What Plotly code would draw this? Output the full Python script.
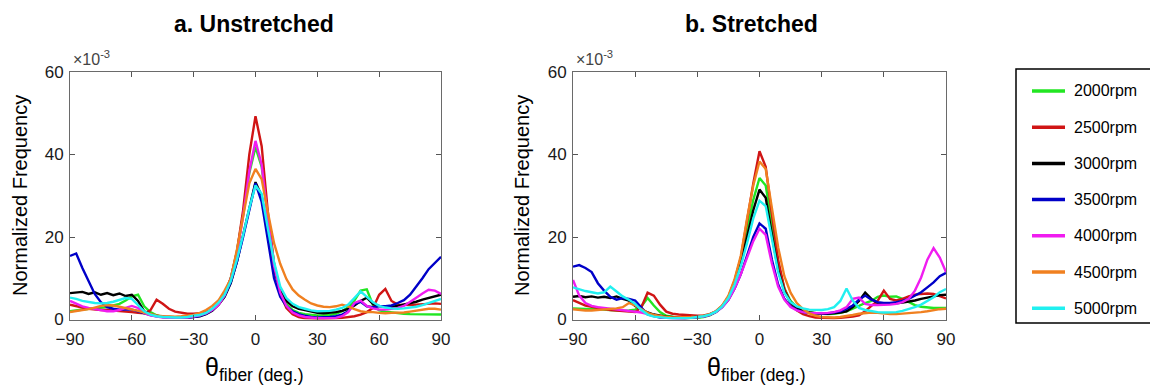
import plotly.graph_objects as go

FONT = "Arial, Liberation Sans, sans-serif"

theta = list(range(-90, 91, 3))
speeds = ["2000rpm", "2500rpm", "3000rpm", "3500rpm", "4000rpm", "4500rpm", "5000rpm"]
colors = ["#22e622", "#d01515", "#000000", "#0000c8", "#f01cf0", "#f08020", "#20f0f0"]
xticks = [-90, -60, -30, 0, 30, 60, 90]
yticks = [0, 20, 40, 60]

# Panel a. Unstretched (values in units of 1e-3)
a_2000 = [2.0, 2.2, 2.5, 2.6, 2.7, 2.8, 3.0, 3.4, 3.8, 4.6,
          5.6, 6.0, 3.2, 1.8, 1.0, 0.6, 0.5, 0.4, 0.4, 0.5,
          0.7, 1.0, 1.5, 2.3, 3.6, 6.0, 10.0, 16.5, 25.5, 35.5,
          41.8,
          37.0, 25.0, 13.5, 7.0, 3.8, 2.3, 1.6, 1.3, 1.1, 1.0,
          1.0, 1.1, 1.4, 2.0, 3.0, 4.6, 7.0, 7.3, 3.5, 2.2,
          1.9, 1.7, 1.5, 1.4, 1.3, 1.3, 1.2, 1.2, 1.2, 1.2]
a_2500 = [3.6, 3.2, 2.9, 2.6, 2.4, 2.3, 2.3, 2.2, 2.0, 1.9,
          1.8, 1.6, 1.5, 2.2, 4.8, 3.8, 2.6, 1.9, 1.6, 1.4,
          1.4, 1.5, 1.8, 2.5, 3.8, 6.2, 10.0, 16.5, 26.5, 40.0,
          49.3,
          42.0, 26.0, 13.5, 6.2, 2.8, 1.3, 0.6, 0.3, 0.2, 0.2,
          0.2, 0.2, 0.3, 0.4, 0.6, 0.8, 1.2, 1.8, 2.8, 6.0,
          7.4, 4.5, 3.6, 3.5, 3.5, 3.6, 3.7, 3.8, 3.9, 3.8]
a_3000 = [6.4, 6.5, 6.7, 6.2, 6.6, 6.0, 6.4, 5.9, 6.3, 5.7,
          6.0, 4.5, 2.0, 1.3, 0.9, 0.7, 0.6, 0.5, 0.5, 0.5,
          0.6, 0.8, 1.3, 2.1, 3.5, 5.5, 8.8, 14.0, 20.5, 27.0,
          33.3,
          30.0, 21.0, 12.0, 7.0, 4.5, 3.2, 2.6, 2.3, 1.9, 1.6,
          1.5, 1.6, 1.8, 2.1, 2.6, 3.4, 4.5, 5.3, 3.8, 3.3,
          3.2, 3.1, 3.3, 3.6, 3.9, 4.3, 4.8, 5.2, 5.7, 6.0]
a_3500 = [15.4, 16.0, 12.5, 9.4, 6.2, 4.2, 3.0, 2.6, 2.4, 2.5,
          2.4, 2.0, 1.5, 1.1, 0.8, 0.6, 0.5, 0.4, 0.4, 0.5,
          0.6, 0.9, 1.4, 2.3, 3.8, 5.7, 9.0, 14.0, 20.0, 26.5,
          33.0,
          28.5, 19.0, 10.0, 5.5, 3.2, 2.0, 1.3, 0.9, 0.6, 0.5,
          0.5, 0.6, 0.8, 1.2, 2.0, 3.8, 4.3, 3.2, 3.0, 3.2,
          3.2, 3.4, 4.0, 4.7, 6.0, 7.9, 10.0, 12.2, 13.8, 15.2]
a_4000 = [4.5, 3.8, 3.2, 2.8, 2.5, 2.2, 2.0, 2.0, 2.3, 2.8,
          3.3, 2.8, 1.6, 1.0, 0.7, 0.5, 0.4, 0.4, 0.4, 0.5,
          0.7, 1.0, 1.5, 2.3, 3.5, 5.8, 9.8, 16.0, 25.0, 36.0,
          43.3,
          37.5, 24.5, 13.0, 6.5, 3.3, 1.7, 1.0, 0.6, 0.4, 0.3,
          0.3, 0.3, 0.4, 0.8, 1.8, 4.0, 4.6, 3.3, 2.7, 2.4,
          2.4, 2.6, 2.8, 3.3, 4.2, 5.3, 6.3, 7.2, 7.0, 6.2]
a_4500 = [1.8, 2.0, 2.2, 2.5, 2.9, 3.3, 3.5, 3.4, 3.1, 2.8,
          2.5, 2.1, 1.7, 1.3, 1.0, 0.8, 0.7, 0.7, 0.8, 0.9,
          1.1, 1.6, 2.3, 3.3, 4.6, 7.0, 9.8, 17.0, 25.0, 33.0,
          36.5,
          34.0, 26.0, 18.5, 13.5, 9.8, 7.3, 5.8, 4.8, 3.9, 3.4,
          3.1, 3.0, 3.2, 3.6, 3.2, 2.5, 2.0, 1.8, 1.8, 1.6,
          1.5, 1.6, 1.6, 1.7, 1.9, 2.1, 2.3, 2.6, 2.6, 2.4]
a_5000 = [5.3, 5.0, 4.5, 4.2, 4.0, 3.9, 4.0, 4.3, 4.8, 5.2,
          5.0, 3.5, 2.0, 1.2, 0.8, 0.6, 0.5, 0.5, 0.5, 0.6,
          0.9, 1.1, 1.6, 2.6, 4.0, 6.0, 9.3, 14.5, 20.5, 27.0,
          32.5,
          30.5, 22.0, 14.0, 8.0, 5.2, 3.8, 3.0, 2.6, 2.2, 2.0,
          2.0, 2.1, 2.4, 2.8, 3.6, 5.2, 6.8, 5.5, 4.2, 3.3,
          2.9, 2.7, 2.6, 2.7, 2.9, 3.1, 3.5, 4.0, 4.5, 5.0]

# Panel b. Stretched (values in units of 1e-3)
b_2000 = [2.7, 2.6, 2.6, 2.5, 2.5, 2.4, 2.3, 2.2, 2.1, 2.2,
          2.4, 3.2, 5.2, 3.4, 1.8, 0.9, 0.6, 0.4, 0.3, 0.3,
          0.4, 0.6, 1.0, 1.8, 3.2, 5.5, 9.0, 14.5, 21.5, 29.0,
          34.3,
          32.5, 23.0, 13.5, 7.5, 4.5, 3.0, 2.2, 1.8, 1.5, 1.4,
          1.3, 1.4, 1.6, 2.0, 2.6, 3.3, 4.0, 4.5, 5.5, 5.8,
          5.5, 5.6, 5.0, 4.2, 3.5, 3.1, 2.9, 2.8, 2.8, 2.8]
b_2500 = [4.7, 4.0, 3.4, 3.1, 2.8, 2.5, 2.3, 2.2, 2.1, 2.0,
          1.8, 3.0, 6.5, 5.8, 3.6, 1.9, 1.4, 1.2, 1.1, 1.0,
          0.9, 1.0, 1.3, 2.0, 3.3, 5.5, 9.5, 15.0, 24.0, 33.0,
          40.8,
          37.0, 25.5, 14.5, 7.5, 4.0, 2.2, 1.3, 0.8, 0.5, 0.4,
          0.3, 0.3, 0.4, 0.5, 0.7, 1.0, 2.0, 3.3, 4.5, 7.0,
          5.0, 4.6, 5.0, 5.6, 6.0, 6.2, 6.3, 6.2, 5.7, 5.1]
b_3000 = [5.5, 5.7, 5.4, 5.6, 5.3, 5.5, 5.2, 5.6, 5.0, 4.6,
          3.3, 2.5, 1.7, 1.2, 0.9, 0.7, 0.6, 0.5, 0.5, 0.5,
          0.6, 0.8, 1.2, 1.9, 3.2, 5.3, 8.8, 13.5, 20.0, 26.5,
          31.5,
          29.5, 20.5, 12.0, 6.8, 4.2, 2.8, 2.1, 1.7, 1.5, 1.4,
          1.4, 1.5, 1.7, 2.0, 3.0, 4.5, 6.5, 5.0, 4.0, 3.8,
          3.8, 3.9, 4.1, 4.3, 4.6, 5.0, 5.3, 5.6, 5.9, 6.0]
b_3500 = [12.8, 13.2, 12.5, 11.5, 8.8, 7.0, 5.5, 4.8, 5.2, 5.0,
          4.6, 2.8, 1.2, 0.8, 0.5, 0.4, 0.3, 0.3, 0.3, 0.4,
          0.5, 0.7, 1.1, 1.8, 3.0, 4.8, 7.5, 11.0, 15.5, 20.0,
          23.3,
          22.0, 14.5, 8.5, 5.0, 3.2, 2.3, 1.8, 1.6, 1.5, 1.5,
          1.5, 1.7, 2.0, 2.6, 3.4, 4.8, 5.8, 4.8, 4.2, 4.0,
          4.0, 4.2, 4.5, 5.0, 5.7, 6.6, 7.8, 9.0, 10.5, 11.3]
b_4000 = [9.6, 5.8, 4.0, 3.3, 3.0, 2.8, 2.6, 2.5, 2.3, 2.1,
          1.9, 1.7, 1.3, 0.9, 0.6, 0.4, 0.3, 0.3, 0.3, 0.4,
          0.5, 0.7, 1.1, 1.8, 3.0, 4.8, 7.5, 11.0, 15.0, 19.0,
          22.0,
          20.5, 13.5, 8.0, 4.8, 3.0, 2.2, 1.8, 1.6, 1.5, 1.5,
          1.6, 1.8, 2.2, 3.0, 5.0, 5.3, 3.8, 3.5, 3.5, 3.5,
          3.6, 3.8, 4.2, 5.0, 7.0, 10.2, 14.5, 17.3, 15.0, 11.5]
b_4500 = [2.5, 2.3, 2.2, 2.2, 2.3, 2.4, 2.5, 2.7, 3.0, 4.0,
          3.4, 2.4, 1.6, 1.1, 0.8, 0.6, 0.5, 0.5, 0.5, 0.6,
          0.7, 0.9, 1.3, 2.0, 3.4, 5.8, 9.8, 15.5, 24.5, 32.5,
          38.3,
          36.5, 27.0, 17.5, 10.5, 6.5, 4.0, 2.5, 1.5, 0.9, 0.6,
          0.5, 0.5, 0.6, 0.8, 1.1, 1.4, 1.6, 1.7, 1.6, 1.4,
          1.3, 1.3, 1.4, 1.5, 1.6, 1.8, 2.0, 2.3, 2.5, 2.6]
b_5000 = [7.8, 7.3, 6.9, 6.6, 6.3, 6.6, 8.0, 6.8, 5.6, 4.8,
          3.8, 2.3, 1.2, 0.7, 0.5, 0.4, 0.3, 0.3, 0.3, 0.4,
          0.6, 0.8, 1.2, 1.9, 3.2, 5.2, 8.5, 13.0, 18.5, 24.5,
          28.8,
          27.5, 19.5, 11.5, 6.5, 4.2, 3.2, 2.7, 2.4, 2.3, 2.3,
          2.5, 3.0, 4.5, 7.5, 4.6, 2.8, 2.3, 2.0, 1.8, 1.7,
          1.7, 1.8, 2.1, 2.5, 3.0, 3.6, 4.4, 5.4, 6.6, 7.4]

series_a = [a_2000, a_2500, a_3000, a_3500, a_4000, a_4500, a_5000]
series_b = [b_2000, b_2500, b_3000, b_3500, b_4000, b_4500, b_5000]

# the page places the figure 8px from the top-left corner (default body margin)
OFF = 8
W, H = 1158 - OFF, 391 - OFF


def px(v):
    return (v - OFF) / W


def py(v):
    return 1 - (v - OFF) / H


fig = go.Figure()
for name, col, ya, yb in zip(speeds, colors, series_a, series_b):
    fig.add_trace(go.Scatter(x=theta, y=ya, mode="lines", name=name, legendgroup=name,
                             showlegend=False, line=dict(color=col, width=2.4),
                             xaxis="x", yaxis="y"))
    fig.add_trace(go.Scatter(x=theta, y=yb, mode="lines", name=name, legendgroup=name,
                             showlegend=False, line=dict(color=col, width=2.4),
                             xaxis="x2", yaxis="y2"))

axis_common = dict(ticks="inside", ticklen=5, tickcolor="#555555", showline=True,
                   linecolor="#6a6a6a", linewidth=1, mirror="ticks", showgrid=False,
                   zeroline=False, automargin=False,
                   tickfont=dict(family=FONT, size=17, color="#1a1a1a"))

fig.update_layout(
    width=W, height=H,
    margin=dict(l=0, r=0, t=0, b=0),
    paper_bgcolor="white", plot_bgcolor="white",
    font=dict(family=FONT, color="#000000"),
    xaxis=dict(domain=[px(70), px(441)], range=[-90, 90], tickvals=xticks, anchor="y",
               ticklabelstandoff=4, **axis_common),
    yaxis=dict(domain=[py(319.5), py(72)], range=[0, 60], tickvals=yticks, anchor="x",
               ticklabelstandoff=2, **axis_common),
    xaxis2=dict(domain=[px(573), px(946)], range=[-90, 90], tickvals=xticks, anchor="y2",
                ticklabelstandoff=4, **axis_common),
    yaxis2=dict(domain=[py(319.5), py(72)], range=[0, 60], tickvals=yticks, anchor="x2",
                ticklabelstandoff=2, **axis_common),
    showlegend=False,
)

ann = []
shapes = []
for cx, title in [(254, "<b>a. Unstretched</b>"), (751, "<b>b. Stretched</b>")]:
    ann.append(dict(x=px(cx), y=py(24), xref="paper", yref="paper", text=title, showarrow=False,
                    xanchor="center", yanchor="middle", font=dict(family=FONT, size=23, color="#000")))
for lx in [70, 573]:
    ann.append(dict(x=px(lx + 1), y=py(70), xref="paper", yref="paper",
                    text="×10<sup>-3</sup>", showarrow=False, xanchor="left", yanchor="bottom",
                    font=dict(family=FONT, size=16, color="#444444")))
for cx in [254, 756]:
    ann.append(dict(x=px(cx), y=py(369), xref="paper", yref="paper",
                    text="θ<sub>fiber (deg.)</sub>", showarrow=False, xanchor="center", yanchor="middle",
                    font=dict(family=FONT, size=25, color="#000")))
for lx in [20, 522]:
    ann.append(dict(x=px(lx), y=py(196), xref="paper", yref="paper",
                    text="Normalized Frequency", showarrow=False, textangle=-90,
                    xanchor="center", yanchor="middle",
                    font=dict(family=FONT, size=20, color="#000")))

# legend box drawn to match the original layout
shapes.append(dict(type="rect", xref="paper", yref="paper", x0=px(1016), x1=px(1156.5),
                   y0=py(323), y1=py(69), line=dict(color="#000000", width=1.5),
                   fillcolor="white", layer="above"))
for i, (name, col) in enumerate(zip(speeds, colors)):
    yc = 91 + i * 36.2
    shapes.append(dict(type="line", xref="paper", yref="paper", x0=px(1032), x1=px(1065),
                       y0=py(yc), y1=py(yc), line=dict(color=col, width=3.5), layer="above"))
    ann.append(dict(x=px(1072), y=py(yc), xref="paper", yref="paper", text=name,
                    showarrow=False, xanchor="left", yanchor="middle",
                    font=dict(family=FONT, size=16, color="#000")))

fig.update_layout(annotations=ann, shapes=shapes)

fig.write_html("out.html")
